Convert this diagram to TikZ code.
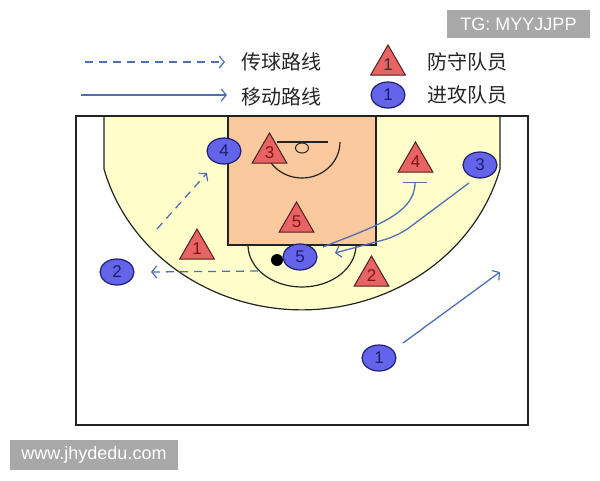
\documentclass[tikz,border=0pt]{standalone}
\usepackage{fontspec}
\setmainfont{Liberation Sans}
\newfontfamily\cjk{Noto Sans CJK SC}
\usetikzlibrary{arrows.meta,shapes.geometric}
\definecolor{courtyellow}{RGB}{255,255,204}
\definecolor{lanefill}{RGB}{250,202,158}
\definecolor{offfill}{RGB}{100,100,235}
\definecolor{offdraw}{RGB}{30,30,110}
\definecolor{deffill}{RGB}{232,100,100}
\definecolor{defdraw}{RGB}{80,30,30}
\definecolor{deftext}{RGB}{130,20,20}
\definecolor{movecol}{RGB}{80,110,180}
\definecolor{wmgray}{RGB}{168,168,168}
\definecolor{courtline}{RGB}{35,35,35}
\begin{document}
\begin{tikzpicture}[x=1pt,y=-1pt,
  offense/.style={ellipse, draw=offdraw, line width=1.2pt, fill=offfill, minimum width=34pt, minimum height=26pt, inner sep=0pt, text=offdraw, font=\fontsize{17}{17}\selectfont},
  defense/.style={regular polygon, regular polygon sides=3, draw=defdraw, line width=1pt, fill=deffill, minimum size=40pt, inner sep=0pt, text=deftext, font=\fontsize{17}{17}\selectfont},
  tip/.style={-{Straight Barb[length=5pt,width=12pt,line width=1.2pt]}},
  pass/.style={draw=movecol, line width=1.3pt, dash pattern=on 8pt off 6pt, tip},
  move/.style={draw=movecol, line width=1.3pt, tip},
  screenmove/.style={draw=movecol, line width=1.3pt, -{Bar[width=24pt,line width=1.3pt]}},
  lbl/.style={font=\cjk\fontsize{20}{20}\selectfont, anchor=west, inner sep=0pt, text=black!85},
  wm/.style={fill=wmgray, text=white, font=\fontsize{18}{18}\selectfont, inner sep=0pt},
  court/.style={draw=courtline, line width=1.4pt}
]
\useasboundingbox (0,0) rectangle (600,480);
\fill[white] (0,0) rectangle (600,480);

% three-point area
\fill[courtyellow] (104,116) -- (104,169) arc[start angle=165, end angle=15, x radius=205, y radius=190] -- (500,116) -- cycle;
\draw[court, line width=1.2pt] (104,116) -- (104,169) arc[start angle=165, end angle=15, x radius=205, y radius=190] -- (500,116);
% lane
\fill[lanefill] (228,116) rectangle (376,245);
\draw[court, line width=1.3pt] (228,116) -- (228,245) -- (376,245) -- (376,116);
% free throw semicircle
\draw[court, line width=1.2pt] (248,245) arc[start angle=180, end angle=0, x radius=54, y radius=42];
% restricted arc, backboard, basket
\draw[court, line width=1.2pt] (340,142) arc[start angle=0, end angle=180, x radius=38, y radius=36];
\draw[court, line width=1.2pt] (277,142) -- (328,142);
\draw[court, line width=1pt, fill=lanefill] (302,148) ellipse[x radius=6.5, y radius=5];
% court border
\draw[court] (76,116) rectangle (528,425);

% legend
\coordinate (lp1) at (85,62);
\coordinate (lp2) at (225,62);
\coordinate (lm1) at (81,95);
\coordinate (lm2) at (227,95);
\draw[pass] (lp1) -- (lp2);
\draw[move] (lm1) -- (lm2);
\node[lbl] (tpass) at (241,62) {传球路线};
\node[lbl] (tmove) at (241,97) {移动路线};
\node[defense, text=black!80] (ldef) at (388,65) {1};
\node[offense] (loff) at (388,95) {1};
\node[lbl] (tdef) at (427,62) {防守队员};
\node[lbl] (toff) at (427,95) {进攻队员};

% movement paths
\coordinate (a1s) at (157,229);
\coordinate (a1e) at (207,173);
\draw[pass] (a1s) -- (a1e);
\coordinate (a2s) at (258,271);
\coordinate (a2e) at (151,272);
\draw[pass] (a2s) -- (a2e);
\coordinate (a3s) at (403,343);
\coordinate (a3e) at (500,272);
\draw[move] (a3s) -- (a3e);
\coordinate (a4s) at (469,183);
\coordinate (a4m) at (398,236);
\coordinate (a4e) at (335,253);
\draw[move, rounded corners=14pt] (a4s) -- (a4m) -- (a4e);
\coordinate (a5s) at (323,247);
\coordinate (a5e) at (415,182);
\draw[screenmove] (a5s) .. controls (370,228) and (415,215) .. (a5e);

% ball
\fill[black] (277,260) circle[radius=6];

% defenders
\node[defense] (d3) at (269.5,153) {3};
\node[defense] (d5) at (296.5,222) {5};
\node[defense] (d1) at (197,249) {1};
\node[defense] (d4) at (415.5,162) {4};
\node[defense] (d2) at (371.5,276) {2};

% offense
\node[offense] (o4) at (224,151) {4};
\node[offense] (o3) at (480,165) {3};
\node[offense] (o5) at (300,257) {5};
\node[offense] (o2) at (117,272) {2};
\node[offense] (o1) at (379,358) {1};

% watermarks
\node[wm, minimum width=143pt, minimum height=28pt] (wm1) at (518.5,24) {TG: MYYJJPP};
\node[wm, minimum width=168pt, minimum height=30pt] (wm2) at (94,455) {www.jhydedu.com};
\end{tikzpicture}
\end{document}
